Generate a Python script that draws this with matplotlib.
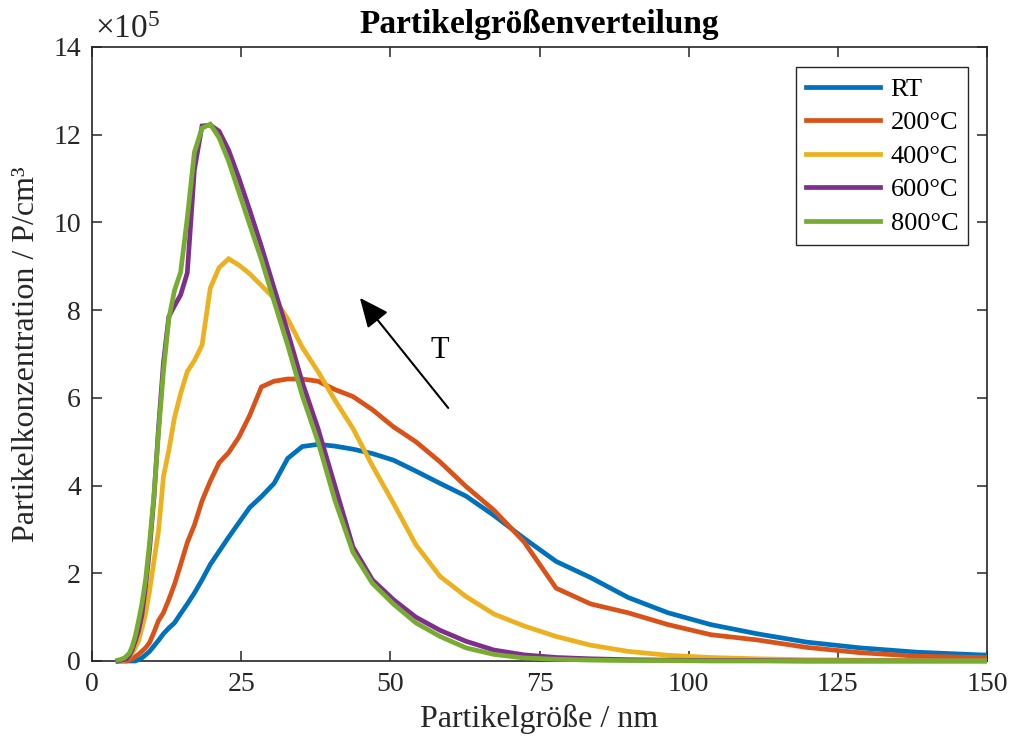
import matplotlib
matplotlib.use("Agg")
import matplotlib.pyplot as plt
from matplotlib.patches import Rectangle

plt.rcParams['font.family'] = ['Liberation Serif', 'DejaVu Serif']
plt.rcParams['mathtext.fontset'] = 'custom'
plt.rcParams['mathtext.rm'] = 'Liberation Serif'
plt.rcParams['mathtext.it'] = 'Liberation Serif:italic'

# particle diameter (nm)
diameter = [4.37, 4.70, 5.05, 5.43, 5.83, 6.27, 6.73, 7.24, 7.78, 8.36, 8.98, 9.65,
            10.37, 11.14, 11.97, 12.87, 13.83, 14.86, 15.97, 17.16, 18.44, 19.82,
            21.30, 22.89, 24.60, 26.43, 28.40, 30.52, 32.80, 35.25, 37.88, 40.70,
            43.74, 47.00, 50.51, 54.28, 58.33, 62.68, 67.36, 72.39, 77.79, 83.59,
            89.83, 96.53, 103.7, 111.5, 119.8, 128.7, 138.3, 148.7, 159.8]

# concentration in units of 1e5 P/cm^3
rt = [0, 0, 0, 0, 0, 0, 0, 0.0, 0.03, 0.07, 0.14, 0.22, 0.34, 0.47, 0.62, 0.75, 0.87,
      1.08, 1.30, 1.55, 1.85, 2.20, 2.50, 2.82, 3.15, 3.50, 3.75, 4.05, 4.62, 4.89,
      4.94, 4.90, 4.83, 4.73, 4.58, 4.33, 4.05, 3.76, 3.32, 2.80, 2.27, 1.90, 1.45,
      1.10, 0.83, 0.62, 0.43, 0.30, 0.20, 0.14, 0.10]
t200 = [0, 0, 0, 0, 0, 0.02, 0.05, 0.10, 0.15, 0.22, 0.30, 0.42, 0.65, 0.92, 1.10,
        1.40, 1.75, 2.20, 2.70, 3.10, 3.65, 4.10, 4.52, 4.75, 5.10, 5.60, 6.25, 6.38,
        6.43, 6.43, 6.38, 6.19, 6.03, 5.73, 5.34, 5.00, 4.54, 3.98, 3.44, 2.72, 1.66,
        1.30, 1.10, 0.83, 0.60, 0.48, 0.31, 0.19, 0.11, 0.08, 0.06]
t400 = [0, 0, 0, 0.02, 0.05, 0.10, 0.18, 0.30, 0.45, 0.74, 1.08, 1.60, 2.27, 2.96,
        4.20, 4.80, 5.55, 6.10, 6.60, 6.85, 7.20, 8.50, 8.97, 9.17, 9.03, 8.83, 8.56,
        8.27, 7.80, 7.15, 6.60, 5.95, 5.30, 4.45, 3.60, 2.65, 1.93, 1.47, 1.07, 0.80,
        0.56, 0.36, 0.22, 0.13, 0.08, 0.05, 0.03, 0.02, 0.01, 0.01, 0.01]
t600 = [0, 0.01, 0.02, 0.03, 0.05, 0.12, 0.25, 0.45, 0.68, 1.05, 1.70, 2.55, 3.70,
        5.30, 6.80, 7.85, 8.10, 8.35, 8.85, 11.20, 12.20, 12.22, 12.08, 11.65, 11.02,
        10.28, 9.45, 8.50, 7.50, 6.35, 5.30, 4.00, 2.60, 1.85, 1.40, 1.00, 0.70, 0.45,
        0.25, 0.14, 0.08, 0.05, 0.03, 0.02, 0.01, 0.01, 0, 0, 0, 0, 0]
t800 = [0.02, 0.03, 0.05, 0.07, 0.12, 0.18, 0.33, 0.56, 0.90, 1.30, 1.85, 2.70, 3.75,
        5.20, 6.60, 7.80, 8.45, 8.87, 10.10, 11.60, 12.15, 12.24, 11.93, 11.40, 10.70,
        9.95, 9.15, 8.20, 7.20, 6.05, 5.00, 3.67, 2.48, 1.77, 1.30, 0.87, 0.56, 0.30,
        0.15, 0.07, 0.04, 0.02, 0.01, 0.01, 0, 0, 0, 0, 0, 0, 0]

series = [rt, t200, t400, t600, t800]
labels = ['RT', '200°C', '400°C', '600°C', '800°C']
colors = ['#0072BD', '#D95319', '#EDB120', '#7E2F8E', '#77AC30']

x_ticks = [0, 25, 50, 75, 100, 125, 150]
y_ticks = [0, 2, 4, 6, 8, 10, 12, 14]

axc = '#262626'
fig = plt.figure(figsize=(10.14, 7.52), dpi=100)
ax = fig.add_axes([92/1014, 1 - 661/752, (987-92)/1014, (661-47)/752])

clip = Rectangle((0, -0.02), 1, 1.04, transform=ax.transAxes, facecolor='none', edgecolor='none')
ax.add_patch(clip)
for ys, lab, c in zip(series, labels, colors):
    ln, = ax.plot(diameter, ys, color=c, lw=3.4, label=lab, zorder=3, solid_joinstyle='miter')
    ln.set_clip_path(clip)

ax.set_xlim(0, 150)
ax.set_ylim(0, 14)
ax.set_xticks(x_ticks)
ax.set_yticks(y_ticks)
ax.tick_params(direction='in', top=True, right=True, length=7, width=1.1,
               colors=axc, labelsize=20, pad=8)
for s in ax.spines.values():
    s.set_color(axc)
    s.set_linewidth(1.2)

ax.set_xlabel('Partikelgröße / nm', fontsize=23, color=axc, labelpad=5)
ax.set_ylabel('Partikelkonzentration / P/cm³', fontsize=23, color=axc, labelpad=9)
ax.set_title('Partikelgrößenverteilung', fontsize=24, fontweight='bold', pad=10)
ax.text(0.003, 1.004, r'$\times10^{5}$', transform=ax.transAxes, ha='left', va='bottom',
        fontsize=24, color=axc)

ax.annotate('', xy=(44.9, 8.28), xytext=(59.7, 5.77),
            arrowprops=dict(arrowstyle='-|>,head_length=0.9,head_width=0.4',
                            color='k', lw=1.5, mutation_scale=20, shrinkA=0, shrinkB=0))
ax.text(58.3, 7.09, 'T', fontsize=22, ha='center', va='center', color='k')

leg = ax.legend(loc='upper right', bbox_to_anchor=(0.979, 0.967), borderaxespad=0,
                fontsize=19, fancybox=False, framealpha=1, edgecolor=axc,
                handlelength=2.8, handletextpad=0.4, labelspacing=0.38, borderpad=0.38)
leg.get_frame().set_linewidth(1.0)

fig.savefig('out.png', dpi=100)
